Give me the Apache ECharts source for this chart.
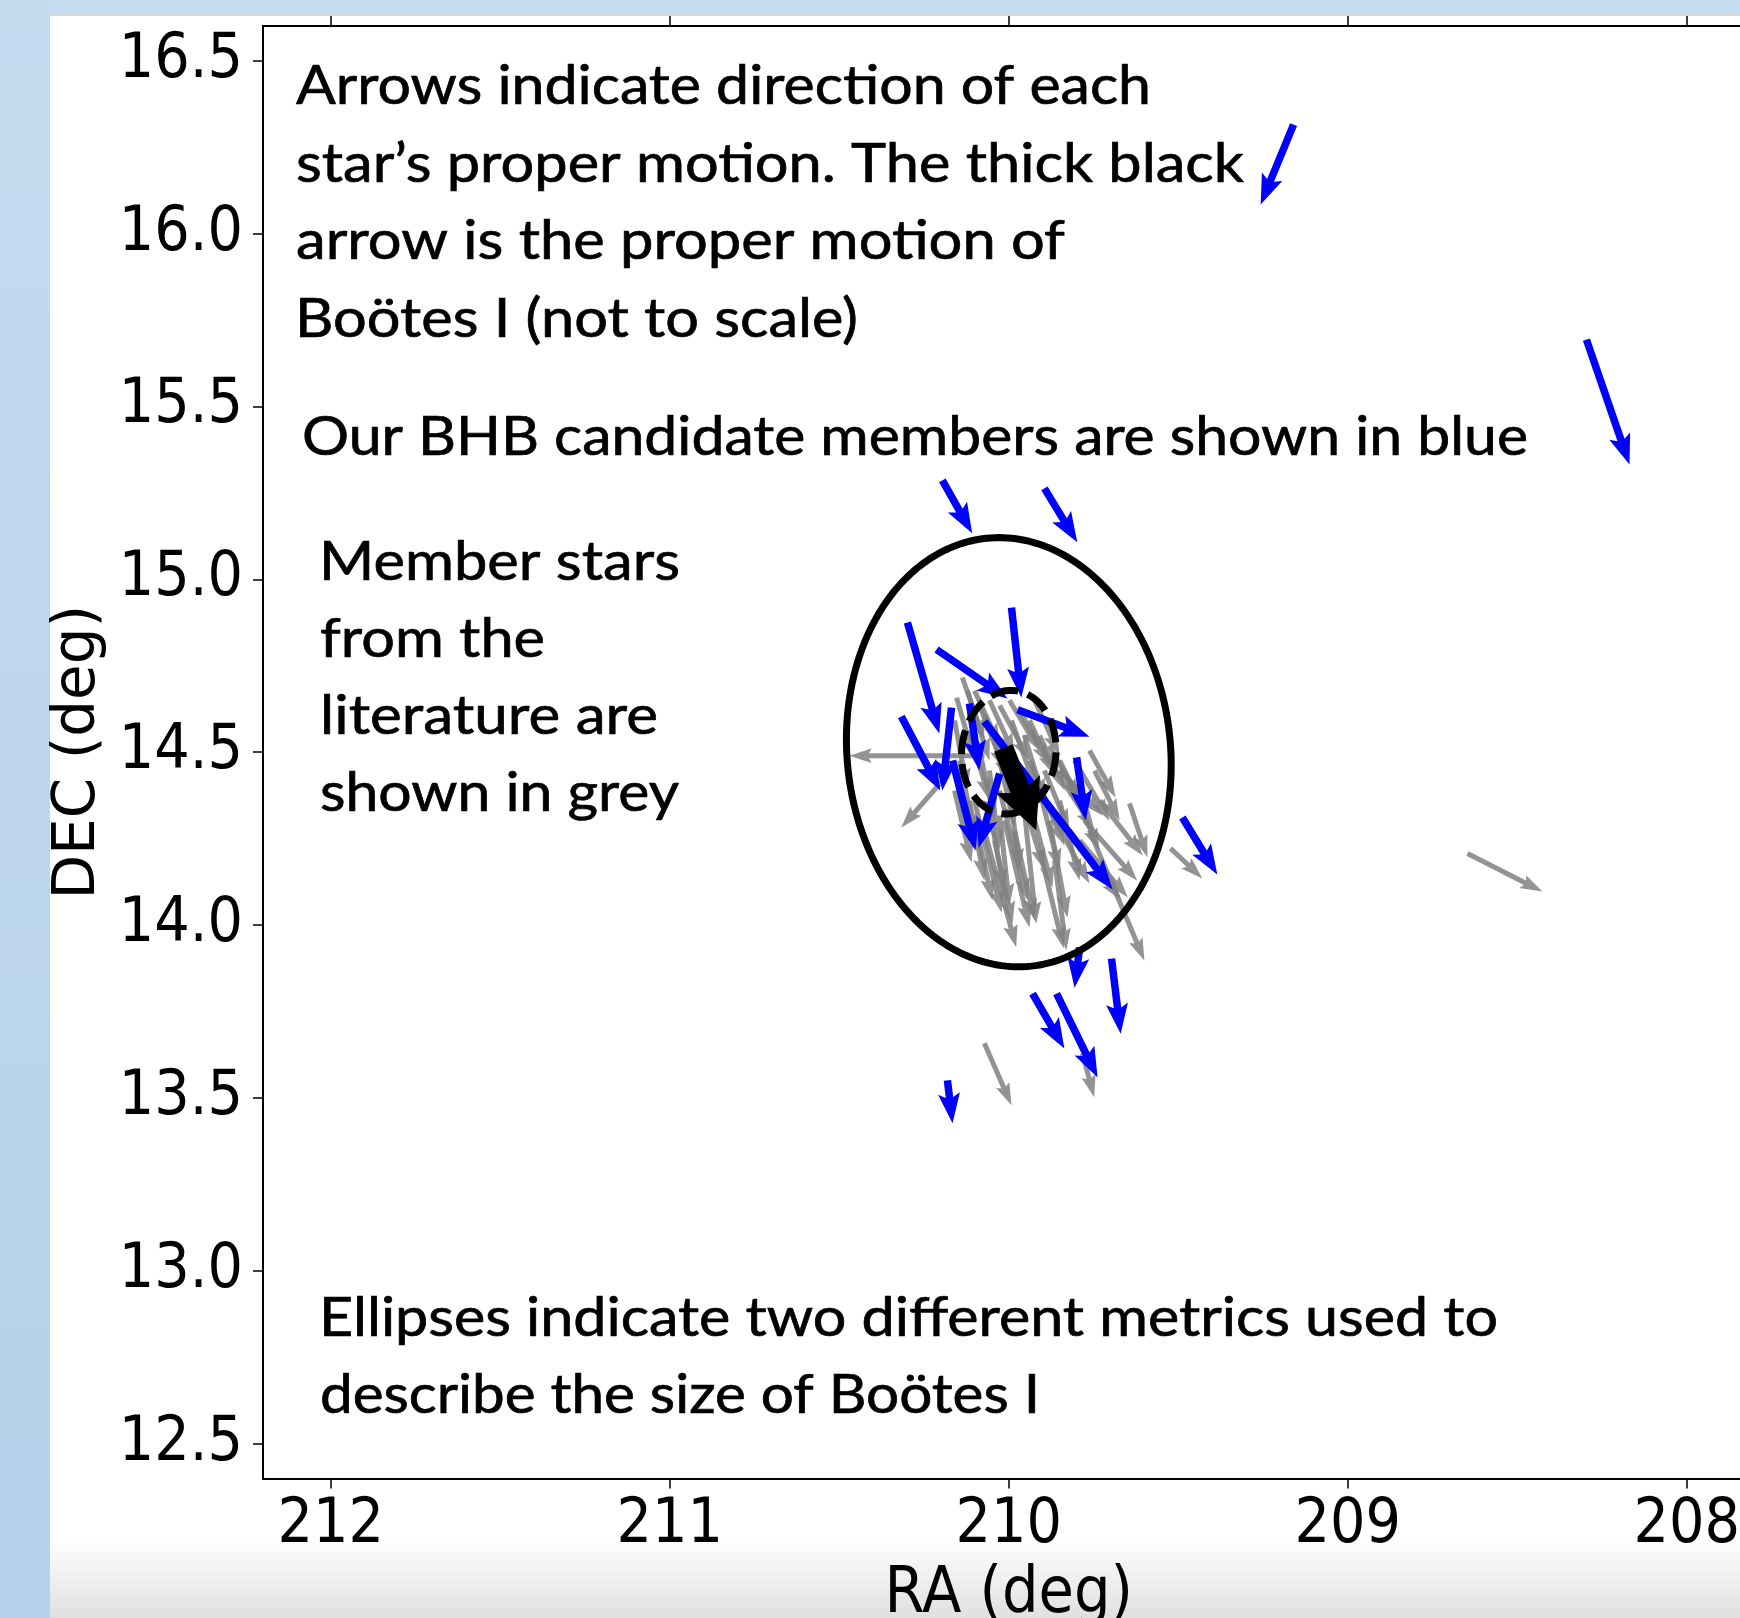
<!DOCTYPE html>
<html><head><meta charset="utf-8">
<script src="https://cdn.jsdelivr.net/npm/echarts@6/dist/echarts.min.js"></script>
<style>html,body{margin:0;padding:0;background:#fff;overflow:hidden}#c{width:1740px;height:1618px}</style>
</head><body><div id="c"></div>
<script>
// ---- axis ticks ----
const raTicks = [212, 211, 210, 209, 208];
const decTicks = [12.5, 13.0, 13.5, 14.0, 14.5, 15.0, 15.5, 16.0, 16.5];
const raRange = [207.8, 212.2];
const decRange = [12.4, 16.6];

// ---- BHB candidate members (blue): tail RA, tail DEC, arrow dRA, arrow dDEC (deg) ----
const blueRA   = [209.160, 208.296, 210.196, 209.895, 210.299, 210.317, 210.169, 210.213, 209.992, 209.974, 209.800, 210.072, 210.116, 210.166, 210.027, 209.488, 209.791, 209.697, 209.930, 209.859, 210.181];
const blueDEC  = [16.315, 15.693, 15.286, 15.263, 14.875, 14.603, 14.629, 14.797, 14.918, 14.623, 14.485, 14.589, 14.641, 14.476, 14.438, 14.311, 13.935, 13.903, 13.802, 13.802, 13.551];
const blueDRA  = [0.097, -0.127, -0.088, -0.097, -0.094, -0.115, 0.027, -0.209, -0.029, -0.212, -0.027, -0.378, -0.029, -0.068, 0.062, -0.103, 0.015, -0.027, -0.094, -0.121, -0.015];
const blueDDEC = [-0.231, -0.361, -0.153, -0.156, -0.321, -0.214, -0.240, -0.142, -0.260, -0.078, -0.182, -0.486, -0.194, -0.260, -0.214, -0.165, -0.116, -0.217, -0.159, -0.243, -0.124];

// ---- literature members (grey) ----
const greyRA   = [210.072, 210.190, 208.647, 209.523, 210.072, 209.783, 209.762, 209.762, 209.644, 209.747,
                  210.160, 210.101, 210.072, 210.013, 209.954, 210.027, 209.865, 209.880, 209.939, 209.895, 209.821, 209.777, 209.968, 210.057, 210.027, 209.939, 209.850, 209.806, 209.909, 210.101, 210.042, 209.983, 209.791, 209.732,
                  210.137, 210.154, 210.101, 210.057, 210.027, 209.998, 209.968, 209.939, 210.072, 210.042, 209.909, 209.880, 209.850, 210.116, 210.013, 209.983, 209.895, 210.086,
                  210.122, 210.086, 209.992, 209.954, 209.924, 210.145, 210.057, 209.998, 209.909, 209.850, 210.116, 210.027, 209.821, 209.880, 210.160];
const greyDEC  = [14.490, 14.424, 14.207, 14.222, 13.658, 13.629, 14.274, 14.505, 14.352, 14.447,
                  14.389, 14.360, 14.274, 14.302, 14.331, 14.389, 14.187, 14.302, 14.476, 14.360, 14.274, 14.302, 14.389, 14.331, 14.476, 14.360, 14.447, 14.476, 14.216, 14.302, 14.245, 14.274, 14.245, 14.360,
                  14.716, 14.658, 14.678, 14.650, 14.635, 14.650, 14.621, 14.592, 14.606, 14.563, 14.548, 14.519, 14.476, 14.563, 14.519, 14.476, 14.447, 14.505,
                  14.678, 14.635, 14.592, 14.548, 14.650, 14.476, 14.447, 14.404, 14.389, 14.360, 14.360, 14.317, 14.418, 14.476, 14.592];
const greyDRA  = [0.398, 0.127, -0.221, -0.094, -0.080, -0.035, -0.162, -0.077, -0.053, -0.074,
                  -0.050, -0.080, -0.094, -0.074, -0.035, -0.083, -0.035, -0.053, -0.103, -0.133, -0.153, -0.156, -0.074, -0.044, -0.044, -0.068, -0.127, -0.103, -0.071, -0.053, -0.053, -0.059, -0.142, -0.127,
                  -0.065, -0.053, -0.074, -0.074, -0.088, -0.088, -0.088, -0.074, -0.074, -0.074, -0.074, -0.088, -0.074, -0.059, -0.059, -0.059, -0.074, -0.044,
                  -0.065, -0.074, -0.068, -0.059, -0.074, -0.044, -0.029, -0.029, -0.059, -0.059, -0.044, -0.029, -0.088, -0.133, -0.038];
const greyDDEC = [0.000, -0.142, -0.110, -0.087, -0.179, -0.127, -0.376, -0.136, -0.156, -0.145,
                  -0.208, -0.324, -0.338, -0.309, -0.327, -0.318, -0.260, -0.281, -0.246, -0.240, -0.202, -0.174, -0.231, -0.231, -0.194, -0.252, -0.130, -0.174, -0.283, -0.231, -0.240, -0.260, -0.165, -0.159,
                  -0.182, -0.182, -0.159, -0.159, -0.159, -0.145, -0.159, -0.159, -0.188, -0.174, -0.159, -0.159, -0.145, -0.202, -0.188, -0.202, -0.174, -0.202,
                  -0.202, -0.188, -0.188, -0.188, -0.159, -0.217, -0.231, -0.246, -0.231, -0.231, -0.231, -0.260, -0.202, -0.202, -0.202];

// ---- Bootes I systemic proper motion (black, not to scale) ----
const bootesRA = [210.016];
const bootesDEC = [14.512];
const bootesDRA = [-0.097];
const bootesDDEC = [-0.238];

// ---- size ellipses: centre, semi-axis along RA, semi-axis along DEC (deg), position angle (deg) ----
const ellipseRA = [210.0, 210.0];
const ellipseDEC = [14.5, 14.5];
const ellipseSemiRA = [0.477, 0.139];
const ellipseSemiDEC = [0.622, 0.179];
const ellipsePA = [6, -5];

const zip4 = (a, b, c, d) => a.map((v, i) => [v, b[i], c[i], d[i]]);

function arrowRenderer(w, hw, hl, hal, color) {
  return function (params, api) {
    const t = api.coord([api.value(0), api.value(1)]);
    const h = api.coord([api.value(0) + api.value(2), api.value(1) + api.value(3)]);
    const dx = h[0] - t[0], dy = h[1] - t[1];
    const L = Math.hypot(dx, dy);
    if (L < 1e-6) return null;
    const ux = dx / L, uy = dy / L, nx = -uy, ny = ux;
    const k = L < hl ? L / hl : 1;
    const HL = hl * k, HAL = hal * k, HW = hw * k, W = w;
    const P = (a, b) => [t[0] + ux * a + nx * b, t[1] + uy * a + ny * b];
    const pts = [P(0, W / 2), P(L - HAL, W / 2), P(L - HL, HW / 2), P(L, 0), P(L - HL, -HW / 2), P(L - HAL, -W / 2), P(0, -W / 2)];
    return { type: 'polygon', shape: { points: pts }, style: { fill: color } };
  };
}

function ellipseRenderer(params, api) {
  const c = api.coord([api.value(0), api.value(1)]);
  const s = api.size([api.value(2), api.value(3)]);
  const b = s[0], a = s[1];
  const pa = api.value(4) * Math.PI / 180;
  const mx = -Math.sin(pa), my = -Math.cos(pa);
  const nx = -Math.cos(pa), ny = Math.sin(pa);
  const pts = [];
  const N = 240;
  for (let i = 0; i < N; i++) {
    const th = 2 * Math.PI * i / N;
    const u = a * Math.cos(th), v = b * Math.sin(th);
    pts.push([c[0] + u * mx + v * nx, c[1] + u * my + v * ny]);
  }
  const dashed = api.value(5) === 1;
  return {
    type: 'polygon', shape: { points: pts },
    style: { fill: 'none', stroke: '#000', lineWidth: 7, lineDash: dashed ? [24, 10] : null }
  };
}

// ---- annotation text ----
const FS = 55;
const FONT = FS + 'px Lato';
const mctx = document.createElement('canvas').getContext('2d');
function textEl(str, left, baseline, targetW) {
  mctx.font = FONT;
  const w = mctx.measureText(str).width;
  return {
    type: 'text', x: left, y: baseline - 0.387 * FS, scaleX: targetW / w, z: 50,
    style: { text: str, font: FONT, fill: '#000', stroke: '#000', lineWidth: 0.7, align: 'left', verticalAlign: 'middle', textAlign: 'left', textVerticalAlign: 'middle' }
  };
}
const notes = [
  ['Arrows indicate direction of each', 296, 108, 855],
  ['star\u2019s proper motion. The thick black', 296, 185.5, 948],
  ['arrow is the proper motion of', 296, 263, 769],
  ['Bo\u00f6tes I (not to scale)', 295, 340.5, 563],
  ['Our BHB candidate members are shown in blue', 302, 459, 1226],
  ['Member stars', 319, 584, 361],
  ['from the', 320, 661, 225],
  ['literature are', 320, 738, 338],
  ['shown in grey', 320, 815, 359],
  ['Ellipses indicate two different metrics used to', 319, 1340, 1179],
  ['describe the size of Bo\u00f6tes I', 320, 1417, 720]
];

const bgElements = [
  { type: 'rect', z: -5, shape: { x: 0, y: 0, width: 50, height: 1618 },
    style: { fill: new echarts.graphic.LinearGradient(0, 0, 0, 1, [{ offset: 0, color: '#c4daef' }, { offset: 1, color: '#b5d1eb' }]) } },
  { type: 'rect', z: -5, shape: { x: 50, y: 0, width: 1690, height: 14 }, style: { fill: '#c6dcf0' } },
  { type: 'rect', z: -5, shape: { x: 50, y: 14, width: 1690, height: 2 }, style: { fill: '#d6d6d6' } },
  { type: 'rect', z: -5, shape: { x: 50, y: 1535, width: 1690, height: 83 },
    style: { fill: new echarts.graphic.LinearGradient(0, 0, 0, 1, [{ offset: 0, color: 'rgba(226,226,226,0)' }, { offset: 1, color: 'rgba(224,224,224,1)' }]) } }
];

const tickFont = { fontFamily: "'DejaVu Sans Condensed', 'DejaVu Sans'", fontSize: 62, color: '#000' };
const axisLineStyle = { color: '#000', width: 2 };

const chart = echarts.init(document.getElementById('c'), null, { renderer: 'canvas', width: 1740, height: 1618 });
chart.setOption({
  animation: false,
  backgroundColor: '#fff',
  grid: { left: 263, top: 26, width: 1491.6, height: 1452.4, containLabel: false, outerBoundsMode: 'none' },
  xAxis: [
    {
      type: 'value', min: raRange[0], max: raRange[1], inverse: true, position: 'bottom',
      axisLine: { show: true, onZero: false, lineStyle: axisLineStyle },
      axisTick: { show: true, length: 10, customValues: raTicks, lineStyle: { color: '#000', width: 1.5 } },
      axisLabel: Object.assign({ customValues: raTicks, margin: 16 }, tickFont),
      splitLine: { show: false },
      name: 'RA (deg)', nameLocation: 'middle', nameGap: 85,
      nameTextStyle: { fontFamily: "'DejaVu Sans Condensed', 'DejaVu Sans'", fontSize: 64, color: '#000' }
    },
    {
      type: 'value', min: raRange[0], max: raRange[1], inverse: true, position: 'top',
      axisLine: { show: true, onZero: false, lineStyle: axisLineStyle },
      axisTick: { show: true, length: 10, customValues: raTicks, lineStyle: { color: '#000', width: 1.5 } },
      axisLabel: { show: false },
      splitLine: { show: false }
    }
  ],
  yAxis: {
    type: 'value', min: decRange[0], max: decRange[1],
    axisLine: { show: true, onZero: false, lineStyle: axisLineStyle },
    axisTick: { show: true, length: 10, customValues: decTicks, lineStyle: { color: '#000', width: 1.5 } },
    axisLabel: Object.assign({ customValues: decTicks, margin: 20, formatter: v => Number(v).toFixed(1) }, tickFont),
    splitLine: { show: false },
    name: 'DEC (deg)', nameLocation: 'middle', nameRotate: 90, nameGap: 155,
    nameTextStyle: { fontFamily: 'DejaVu Sans', fontSize: 58, color: '#000' }
  },
  graphic: { elements: bgElements.concat(notes.map(n => textEl(n[0], n[1], n[2], n[3]))) },
  series: [
    { type: 'custom', name: 'literature', coordinateSystem: 'cartesian2d', silent: true, z: 2,
      renderItem: arrowRenderer(5, 14.5, 22, 19.5, 'rgba(128,128,128,0.85)'),
      encode: { x: 0, y: 1 }, data: zip4(greyRA, greyDEC, greyDRA, greyDDEC) },
    { type: 'custom', name: 'BHB', coordinateSystem: 'cartesian2d', silent: true, z: 3,
      renderItem: arrowRenderer(7.5, 22, 30, 26, '#0000ff'),
      encode: { x: 0, y: 1 }, data: zip4(blueRA, blueDEC, blueDRA, blueDDEC) },
    { type: 'custom', name: 'Bootes I', coordinateSystem: 'cartesian2d', silent: true, z: 4,
      renderItem: arrowRenderer(20, 48, 50, 44, '#000'),
      encode: { x: 0, y: 1 }, data: zip4(bootesRA, bootesDEC, bootesDRA, bootesDDEC) },
    { type: 'custom', name: 'ellipses', coordinateSystem: 'cartesian2d', silent: true, z: 5,
      renderItem: ellipseRenderer, encode: { x: 0, y: 1 },
      data: ellipseRA.map((v, i) => [v, ellipseDEC[i], ellipseSemiRA[i], ellipseSemiDEC[i], ellipsePA[i], i]) }
  ]
});
</script></body></html>
